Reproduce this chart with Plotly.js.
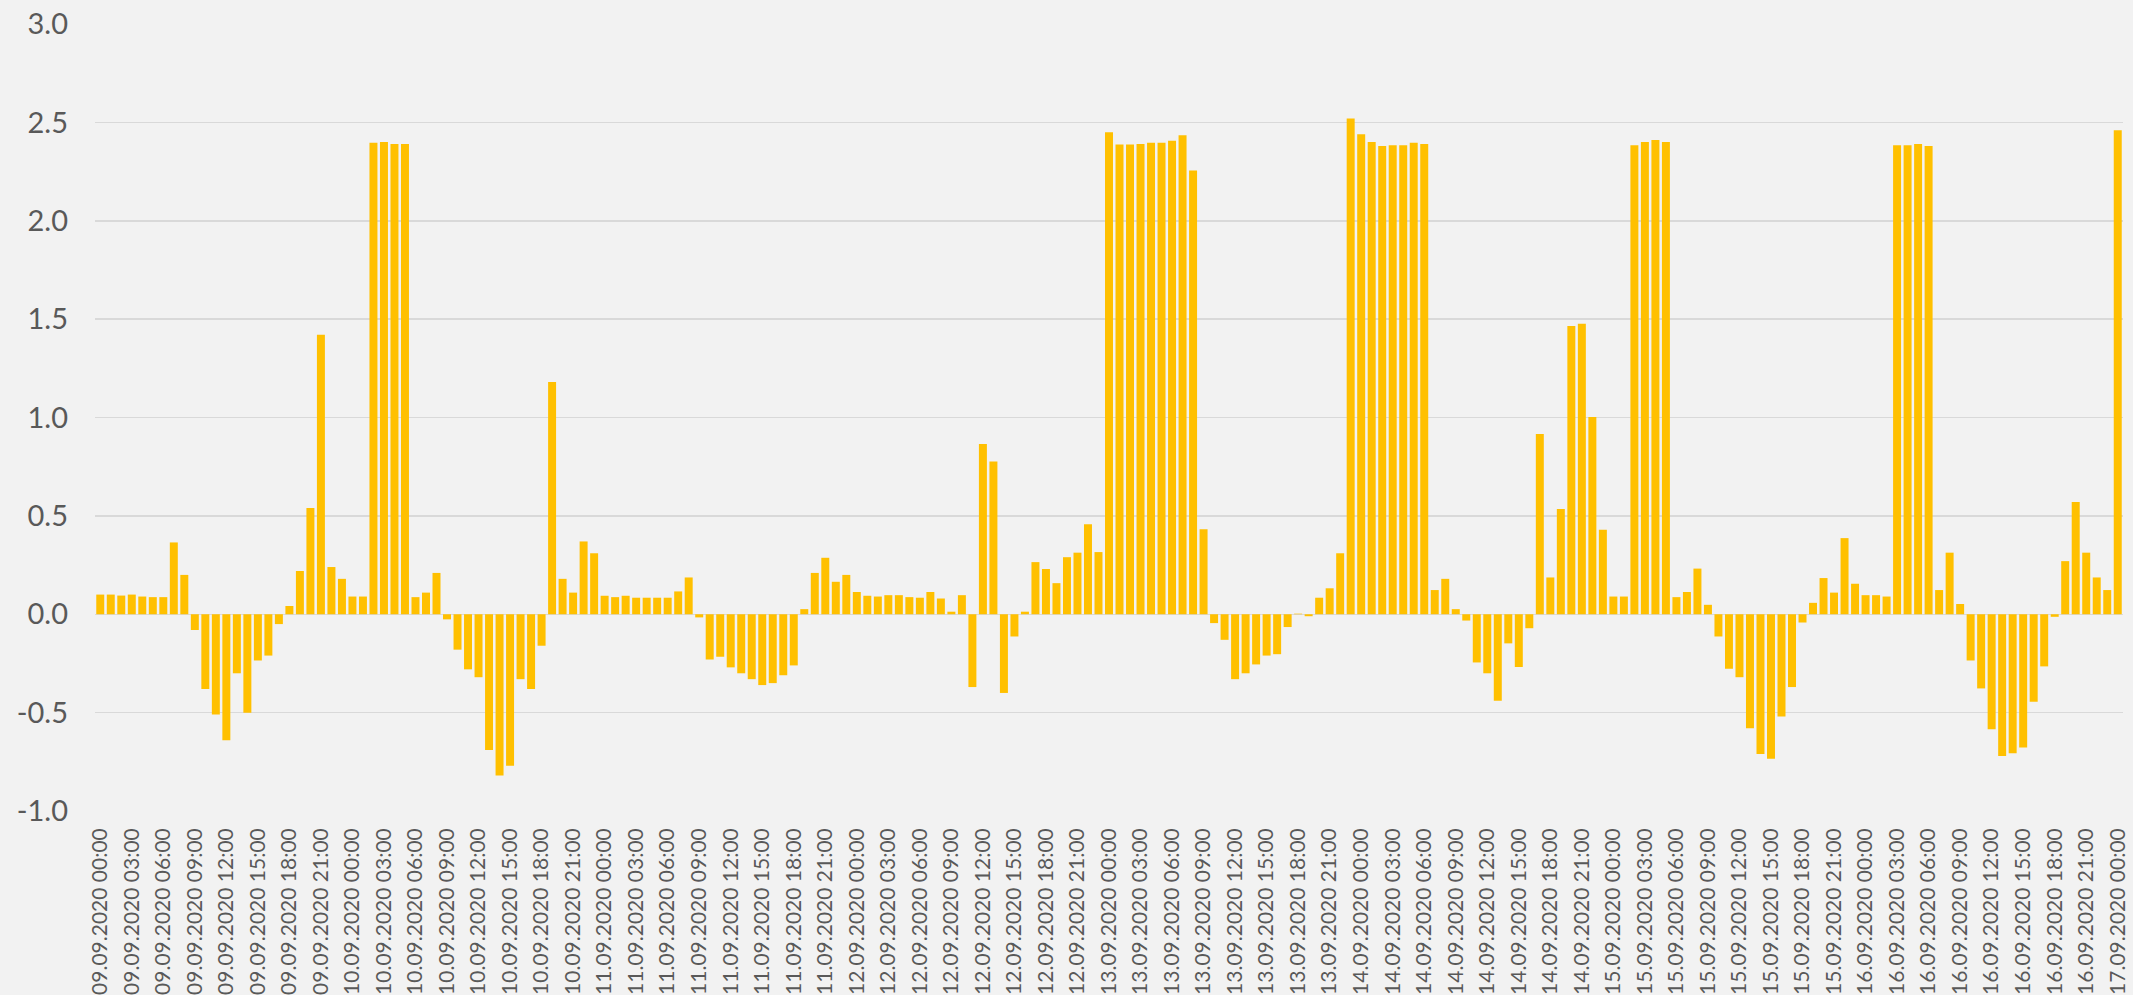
<!DOCTYPE html>
<html>
<head>
<meta charset="utf-8">
<script src="https://cdn.plot.ly/plotly-3.0.1.min.js"></script>
<style>
  html, body { margin: 0; padding: 0; background: #f2f2f2; }
  #chart { width: 2133px; height: 995px; }
</style>
</head>
<body>
<div id="chart"></div>
<script>
// Hourly series, 09.09.2020 00:00 .. 17.09.2020 00:00 (193 values)
const values = [
  0.10, 0.10, 0.095, 0.10, 0.09, 0.087, 0.087, 0.365, 0.20,
  -0.08, -0.38, -0.51, -0.64, -0.30, -0.50, -0.235, -0.21, -0.05,
  0.042, 0.22, 0.54, 1.42, 0.24, 0.18, 0.09, 0.09,
  2.397, 2.40, 2.39, 2.39,
  0.087, 0.11, 0.21,
  -0.026, -0.18, -0.28, -0.32, -0.69, -0.82, -0.77, -0.33, -0.38, -0.16,
  1.18, 0.18, 0.11, 0.37, 0.31, 0.094, 0.087, 0.094, 0.084, 0.084, 0.084, 0.084, 0.116, 0.187,
  -0.016, -0.23, -0.216, -0.27, -0.30, -0.33, -0.36, -0.35, -0.31, -0.26,
  0.026, 0.21, 0.287, 0.165, 0.20, 0.113, 0.094, 0.09, 0.097, 0.097, 0.087, 0.084, 0.113, 0.08, 0.013, 0.097,
  -0.37,
  0.865, 0.777,
  -0.40, -0.113,
  0.013, 0.265, 0.23, 0.158, 0.29, 0.313, 0.458, 0.316,
  2.45, 2.387, 2.387, 2.39, 2.397, 2.397, 2.406, 2.435, 2.255, 0.432,
  -0.045, -0.13, -0.33, -0.30, -0.255, -0.21, -0.203, -0.065,
  0.003,
  -0.01,
  0.084, 0.132, 0.31, 2.52, 2.44, 2.40, 2.38, 2.384, 2.384, 2.397, 2.39, 0.123, 0.18, 0.026,
  -0.032, -0.245, -0.30, -0.44, -0.148, -0.268, -0.071,
  0.916, 0.187, 0.535, 1.465, 1.477, 1.003, 0.429, 0.09, 0.09, 2.384, 2.40, 2.41, 2.40, 0.087, 0.113, 0.232, 0.048,
  -0.113, -0.277, -0.32, -0.58, -0.71, -0.735, -0.52, -0.37, -0.042,
  0.058, 0.184, 0.11, 0.387, 0.155, 0.097, 0.097, 0.09, 2.384, 2.384, 2.39, 2.38, 0.123, 0.313, 0.052,
  -0.235, -0.377, -0.584, -0.72, -0.706, -0.677, -0.445, -0.265, -0.013,
  0.27, 0.57, 0.313, 0.187, 0.123, 2.46
];

// Category labels: hourly timestamps
const days = ["09.09.2020", "10.09.2020", "11.09.2020", "12.09.2020",
              "13.09.2020", "14.09.2020", "15.09.2020", "16.09.2020", "17.09.2020"];
const hours = ["00:00","01:00","02:00","03:00","04:00","05:00","06:00","07:00",
               "08:00","09:00","10:00","11:00","12:00","13:00","14:00","15:00",
               "16:00","17:00","18:00","19:00","20:00","21:00","22:00","23:00"];
const categories = [];
for (const d of days) {
  for (const h of hours) {
    if (categories.length < values.length) categories.push(d + " " + h);
  }
}
// X tick labels every 3 hours
const xTickLabels = categories.filter((c, i) => i % 3 === 0);

// Y tick labels
const yTickVals = [-1.0, -0.5, 0.0, 0.5, 1.0, 1.5, 2.0, 2.5, 3.0];
const yTickText = ["-1.0", "-0.5", "0.0", "0.5", "1.0", "1.5", "2.0", "2.5", "3.0"];

const trace = {
  type: "bar",
  x: categories,
  y: values,
  marker: { color: "#ffc000" },
  hoverinfo: "x+y"
};

const layout = {
  width: 2133,
  height: 995,
  paper_bgcolor: "#f2f2f2",
  plot_bgcolor: "#f2f2f2",
  margin: { l: 95, r: 10, t: 24, b: 184, pad: 0 },
  bargap: 0.24,
  showlegend: false,
  font: { family: "Lato, 'Open Sans', sans-serif", color: "#595959" },
  xaxis: {
    type: "category",
    tickmode: "array",
    tickvals: xTickLabels,
    ticktext: xTickLabels,
    tickangle: -90,
    tickfont: { size: 21, color: "#595959" },
    ticklabelstandoff: 12,
    showgrid: false,
    showline: false,
    zeroline: false,
    ticks: "",
    automargin: false
  },
  yaxis: {
    range: [-1, 3],
    tickmode: "array",
    tickvals: yTickVals,
    ticktext: yTickText,
    tickfont: { size: 29, color: "#595959" },
    ticklabelstandoff: 26,
    showgrid: true,
    gridcolor: "#d9d9d9",
    gridwidth: 1.5,
    zeroline: true,
    zerolinecolor: "#d9d9d9",
    zerolinewidth: 1.5,
    showline: false,
    ticks: "",
    automargin: false
  }
};

Plotly.newPlot("chart", [trace], layout, { displayModeBar: false, staticPlot: true });
</script>
</body>
</html>
